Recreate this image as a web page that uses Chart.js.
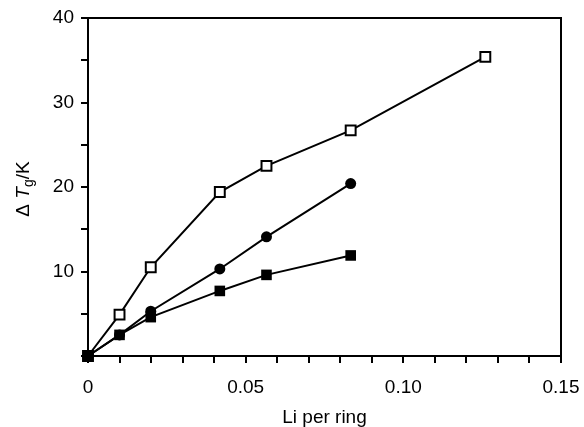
<!DOCTYPE html>
<html><head><meta charset="utf-8">
<script src="https://cdn.jsdelivr.net/npm/chart.js@4/dist/chart.umd.min.js"></script>
<style>html,body{margin:0;padding:0;background:#fff;}#wrap{width:584px;height:427px;position:relative}</style>
</head><body><div id="wrap"><canvas id="c" width="584" height="427"></canvas></div>
<script>
// ---- data ----
const liPerRing     = [0, 0.0100, 0.0199, 0.0418, 0.0566, 0.0833, 0.1260];
const openSquares   = [0, 4.9, 10.5, 19.4, 22.5, 26.7, 35.4];
const filledCircles = [0, 2.5, 5.3, 10.3, 14.1, 20.4];
const filledSquares = [0, 2.5, 4.6, 7.7, 9.6, 11.9];
const xTickValues = [0, 0.05, 0.10, 0.15];
const xTickLabels = ['0', '0.05', '0.10', '0.15'];
const yTickValues = [10, 20, 30, 40];
const yTickLabels = ['10', '20', '30', '40'];
const xTitle = 'Li per ring';
const yTitleParts = ['Δ ', 'T', 'g', '/K'];

const FONT = '"Liberation Sans", Arial, Helvetica, sans-serif';
const pts = ys => ys.map((y, i) => ({x: liPerRing[i], y}));
function labelFor(v, vals, labs) {
  for (let i = 0; i < vals.length; i++) if (Math.abs(v - vals[i]) < 1e-6) return labs[i];
  return '';
}
function noPad(s) { s.paddingLeft = 0; s.paddingRight = 0; s.paddingTop = 0; s.paddingBottom = 0; }

const framePlugin = {
  id: 'frame',
  afterDraw(chart) {
    const {ctx, chartArea: a} = chart;
    ctx.save();
    ctx.strokeStyle = '#000'; ctx.lineWidth = 2;
    ctx.beginPath();
    ctx.moveTo(a.left, a.top); ctx.lineTo(a.right, a.top); ctx.lineTo(a.right, a.bottom);
    ctx.stroke();
    // x title
    ctx.fillStyle = '#000';
    ctx.font = '19px ' + FONT;
    ctx.textAlign = 'center'; ctx.textBaseline = 'alphabetic';
    ctx.fillText(xTitle, (a.left + a.right) / 2, 423);
    // y title (rotated)
    ctx.translate(29, (a.top + a.bottom) / 2 + 2);
    ctx.rotate(-Math.PI / 2);
    ctx.textAlign = 'left';
    const fonts = ['19px ' + FONT, 'italic 19px ' + FONT, '14px ' + FONT, '19px ' + FONT];
    const offs = [0, 0, 4, 0];
    let w = 0;
    const widths = yTitleParts.map((t, i) => { ctx.font = fonts[i]; const m = ctx.measureText(t).width; w += m; return m; });
    let x = -w / 2;
    yTitleParts.forEach((t, i) => { ctx.font = fonts[i]; ctx.fillText(t, x, offs[i]); x += widths[i]; });
    ctx.restore();
  }
};

new Chart(document.getElementById('c'), {
  type: 'line',
  data: {
    datasets: [
      {data: pts(filledSquares), borderColor: '#000', borderWidth: 2, pointStyle: 'rect', pointRadius: 7.5,
       pointBackgroundColor: '#000', pointBorderColor: '#000', pointBorderWidth: 0, clip: false, tension: 0},
      {data: pts(filledCircles), borderColor: '#000', borderWidth: 2, pointStyle: 'circle', pointRadius: 5.5,
       pointBackgroundColor: '#000', pointBorderColor: '#000', pointBorderWidth: 0, clip: false, tension: 0},
      {data: pts(openSquares), borderColor: '#000', borderWidth: 2, pointStyle: 'rect', pointRadius: 7,
       pointBackgroundColor: '#fff', pointBorderColor: '#000', pointBorderWidth: 2, clip: false, tension: 0}
    ]
  },
  options: {
    responsive: false, animation: false, devicePixelRatio: 1,
    layout: {padding: {top: 18, right: 23, left: 0, bottom: 0}},
    plugins: {legend: {display: false}, tooltip: {enabled: false}},
    scales: {
      x: {
        type: 'linear', min: 0, max: 0.15,
        afterFit: s => { s.height = 71; noPad(s); },
        border: {display: true, color: '#000', width: 2},
        grid: {drawOnChartArea: false, drawTicks: true, tickLength: 7, color: '#000', lineWidth: 2},
        ticks: {stepSize: 0.01, autoSkip: false, maxRotation: 0, padding: 13, color: '#000',
                font: {family: FONT, size: 19},
                callback: v => labelFor(v, xTickValues, xTickLabels)}
      },
      y: {
        type: 'linear', min: 0, max: 40,
        afterFit: s => { s.width = 88; noPad(s); },
        border: {display: true, color: '#000', width: 2},
        grid: {drawOnChartArea: false, drawTicks: true, tickLength: 7, color: '#000', lineWidth: 2},
        ticks: {stepSize: 5, autoSkip: false, padding: 7, color: '#000',
                font: {family: FONT, size: 19},
                callback: v => labelFor(v, yTickValues, yTickLabels)}
      }
    }
  },
  plugins: [framePlugin]
});
</script></body></html>
